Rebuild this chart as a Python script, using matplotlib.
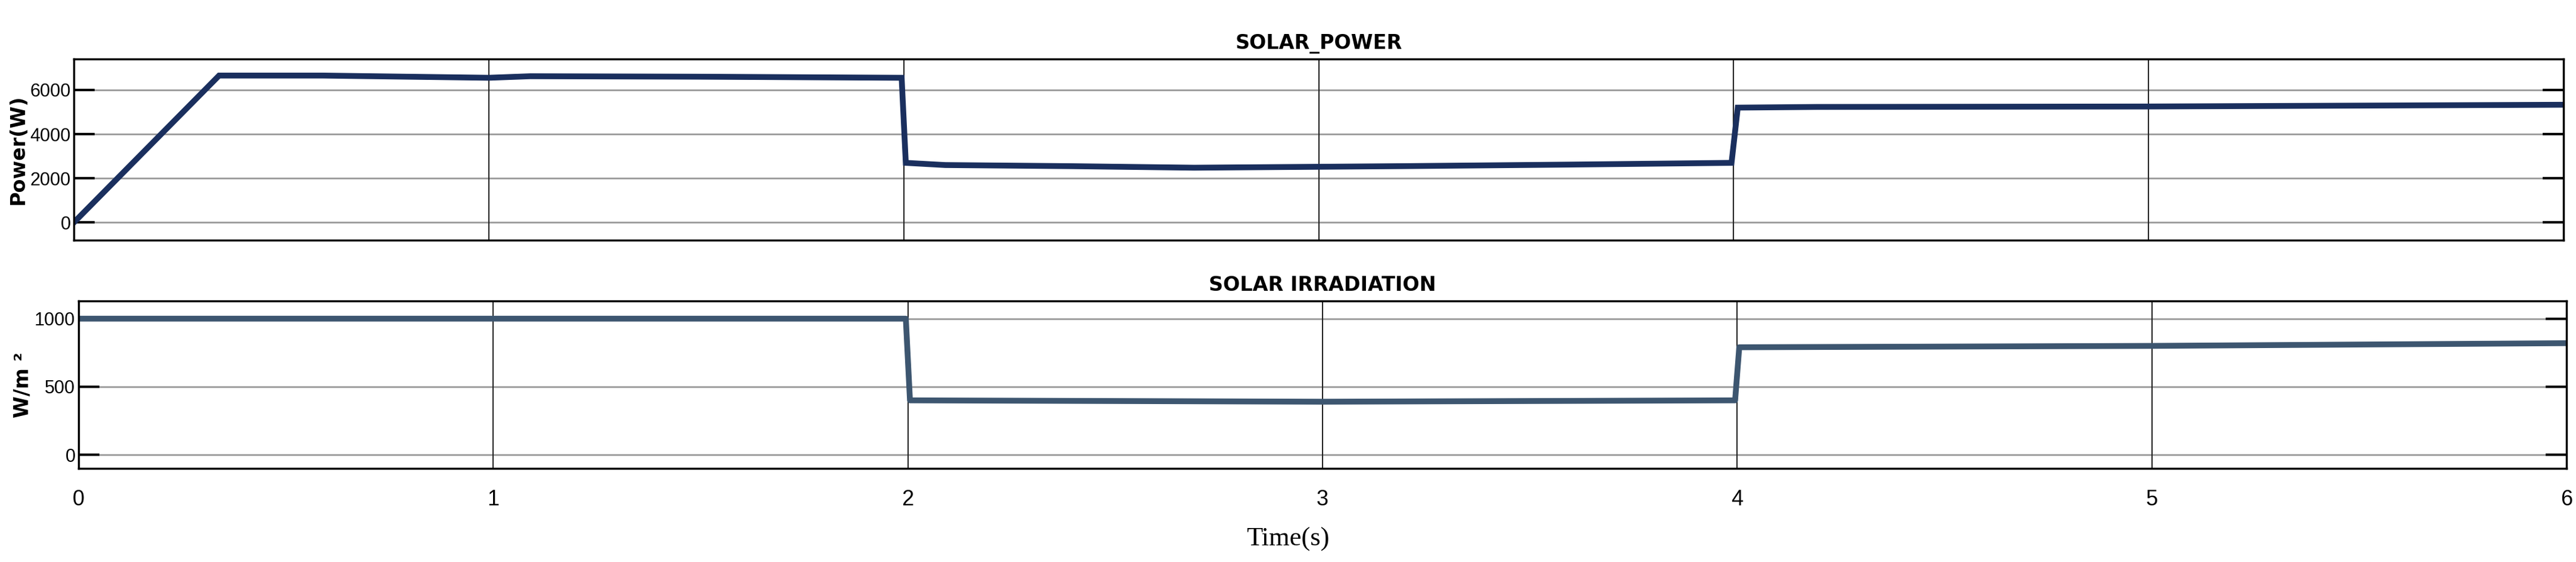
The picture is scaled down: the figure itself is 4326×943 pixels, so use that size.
import matplotlib
matplotlib.use("Agg")
import matplotlib.pyplot as plt

t_power = [0, 0.35, 0.6, 1.0, 1.1, 1.5, 1.995, 2.005, 2.1, 2.4, 2.7, 3.2, 3.6, 3.995, 4.01, 4.2, 5.0, 6.0]
power = [0, 6650, 6650, 6550, 6620, 6600, 6550, 2700, 2600, 2550, 2480, 2550, 2620, 2700, 5200, 5230, 5250, 5330]
t_irr = [0, 1.995, 2.005, 3.0, 3.995, 4.005, 5.0, 6.0]
irr = [1000, 1000, 400, 390, 400, 790, 800, 820]
xticks = [0, 1, 2, 3, 4, 5, 6]
pticks = [0, 2000, 4000, 6000]
iticks = [0, 500, 1000]

fig = plt.figure(figsize=(43.26, 9.43), dpi=100)
ax1 = fig.add_axes([124/4326, 1-403/943, (4305-124)/4326, (403-99)/943])
ax2 = fig.add_axes([132/4326, 1-786/943, (4310-132)/4326, (786-505)/943])

def style(ax, yt, ylim, ylabel, title):
    ax.set_xlim(0, 6)
    ax.set_ylim(*ylim)
    ax.set_yticks(yt)
    ax.set_xticks(xticks)
    for y in yt:
        ax.axhline(y, color="#999999", lw=2, zorder=0)
    for x in xticks[1:-1]:
        ax.axvline(x, color="#222222", lw=1.5, zorder=0)
    ax.tick_params(axis="y", direction="in", length=25, width=3, right=True, labelsize=22, pad=4)
    ax.tick_params(axis="x", length=0, labelsize=26, pad=25)
    for s in ax.spines.values():
        s.set_linewidth(2.5)
    ax.set_ylabel(ylabel, fontsize=24, fontweight="bold", labelpad=2)
    ax.set_title(title, fontsize=24, fontweight="bold", pad=12)
    for lab in ax.get_xticklabels() + ax.get_yticklabels():
        lab.set_fontfamily("Liberation Sans")

ax1.plot(t_power, power, color="#1a2f5e", lw=7, solid_joinstyle="miter")
style(ax1, pticks, (-800, 7400), "Power(W)", "SOLAR_POWER")
ax1.tick_params(axis="x", labelbottom=False)

ax2.plot(t_irr, irr, color="#3d5670", lw=7)
style(ax2, iticks, (-100, 1130), "W/m ²", "SOLAR IRRADIATION")

fig.text(0.5, 1-905/943, "Time(s)", ha="center", va="center", fontsize=32, family="Liberation Serif")
fig.savefig("out.png", dpi=100)
